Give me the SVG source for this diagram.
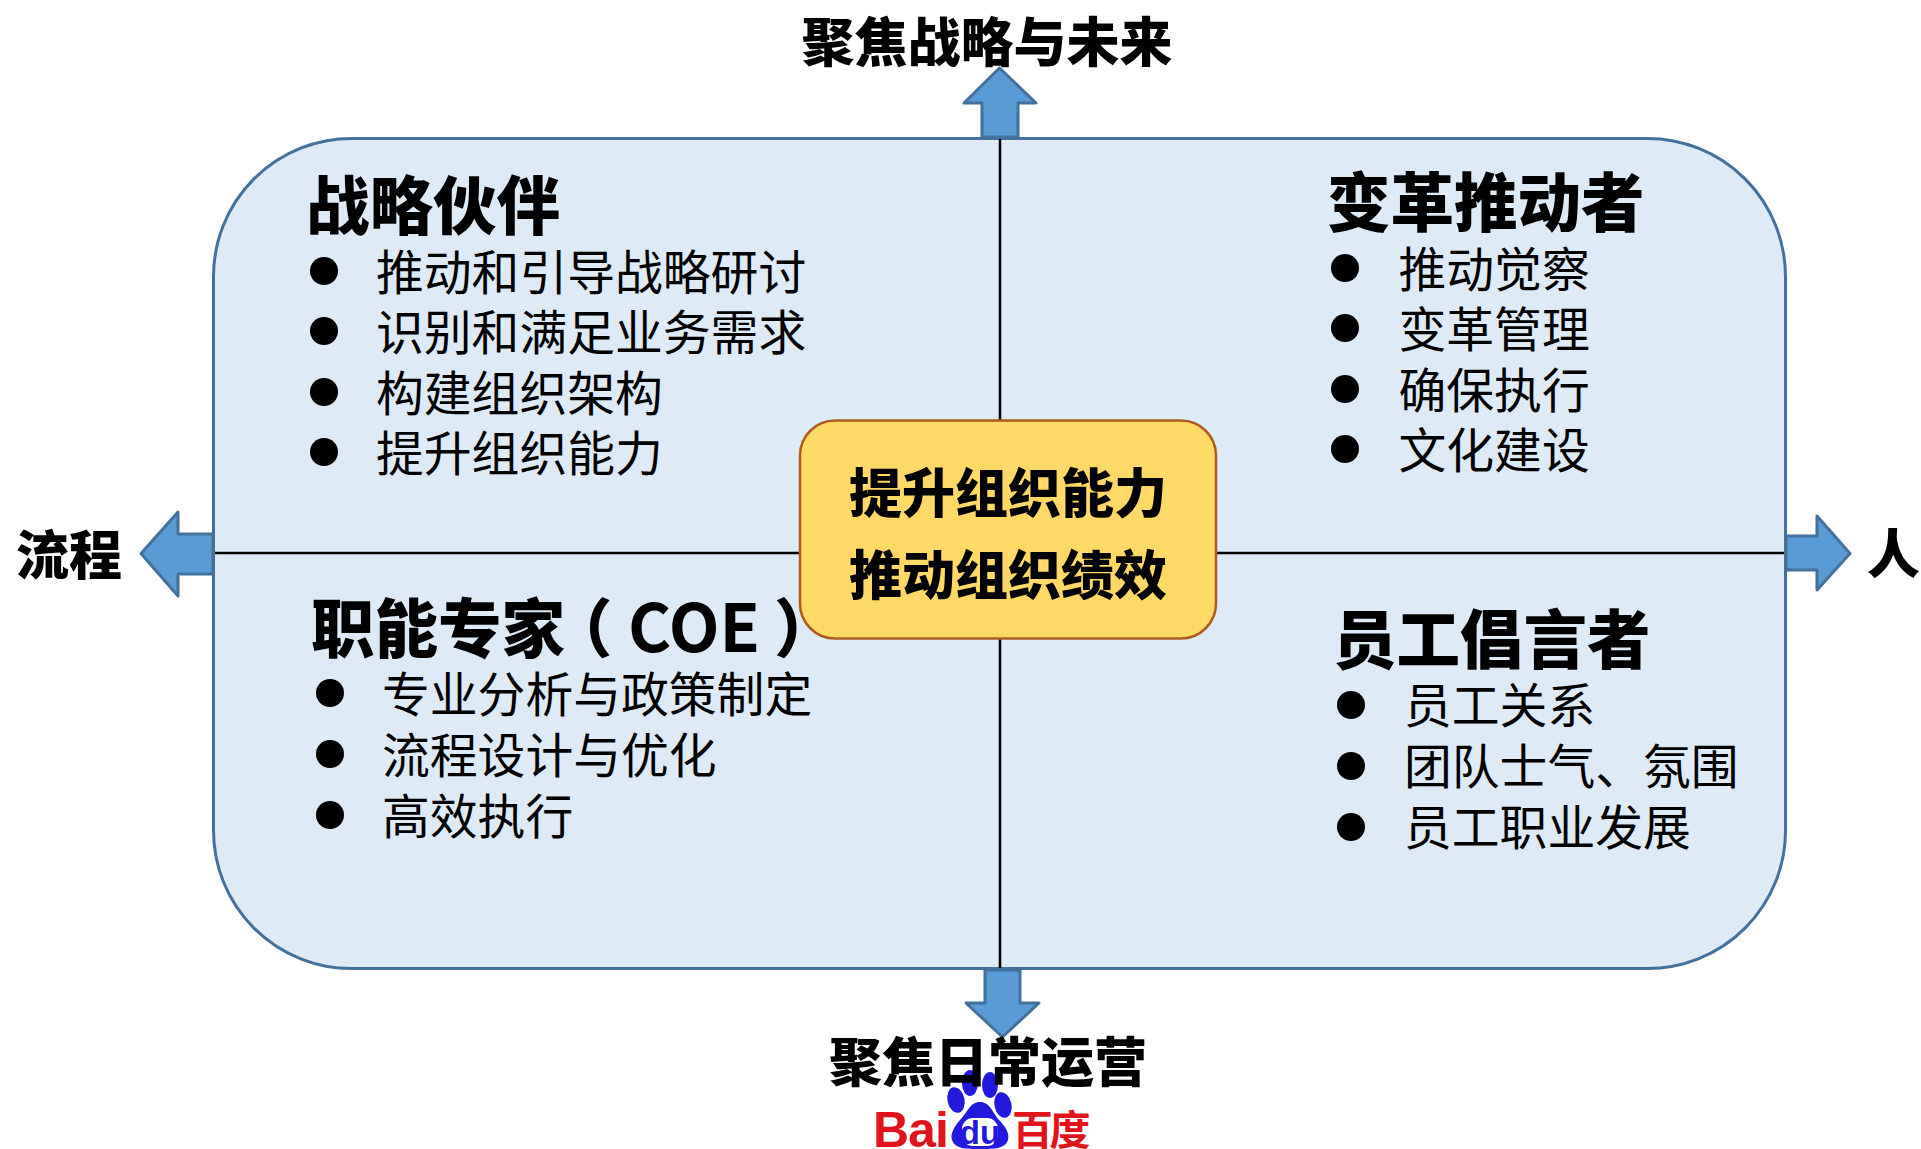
<svg xmlns="http://www.w3.org/2000/svg" width="1921" height="1149" viewBox="0 0 1921 1149">
<style>
text{font-family:"Noto Sans CJK SC","Noto Sans",sans-serif;fill:#000}
.h{font-size:63.500px;font-weight:900}
.i{font-size:47.800px;font-weight:400}
.a{font-size:53px;font-weight:900}
.ar{fill:#5b9bd5;stroke:#41719c;stroke-width:3;stroke-linejoin:round}
.d{fill:#000}
.l{stroke:#000;stroke-width:2.500;fill:none}
.red{font-weight:700}
.blue{fill:#2319dc}
</style>
<g id="arrows">
<polygon class="ar" points="982,137 982,103 964,103 999.500,68 1036,103 1018,103 1018,137"/>
<polygon class="ar" points="985,970 985,1003 966,1003 1002.500,1037 1039,1003 1020,1003 1020,970"/>
<polygon class="ar" points="213,534 178,534 178,512 141,553.500 178,596 178,574 213,574"/>
<polygon class="ar" points="1786,536 1817,536 1817,516 1850,553.500 1817,590 1817,570 1786,570"/>
</g>
<g id="panel"><rect x="213.500" y="138.500" width="1572" height="830" rx="138" fill="#deeaf6" stroke="#41719c" stroke-width="3"/></g>
<g id="connectors">
<line class="l" x1="1000" y1="139" x2="1000" y2="968"/>
<line class="l" x1="215" y1="553" x2="1784" y2="553"/>
</g>
<g id="center"><rect x="800" y="420.500" width="416" height="218" rx="35" fill="#ffd966" stroke="#ae5a21" stroke-width="2.500"/>
<text class="a" x="1008" y="513" text-anchor="middle">提升组织能力</text>
<text class="a" x="1008" y="595" text-anchor="middle">推动组织绩效</text></g>
<g id="q1"><text class="h" x="306" y="229">战略伙伴</text>
<circle class="d" cx="324" cy="271" r="14"/><circle class="d" cx="324" cy="331" r="14"/><circle class="d" cx="324" cy="392" r="14"/><circle class="d" cx="324" cy="452" r="14"/>
<text class="i" x="376" y="290">推动和引导战略研讨</text>
<text class="i" x="376" y="350">识别和满足业务需求</text>
<text class="i" x="376" y="411">构建组织架构</text>
<text class="i" x="376" y="471">提升组织能力</text></g>
<g id="q2"><text class="h" x="1327" y="226">变革推动者</text>
<circle class="d" cx="1345" cy="268" r="14"/><circle class="d" cx="1345" cy="328" r="14"/><circle class="d" cx="1345" cy="389" r="14"/><circle class="d" cx="1345" cy="449" r="14"/>
<text class="i" x="1398.500" y="287">推动觉察</text>
<text class="i" x="1398.500" y="347">变革管理</text>
<text class="i" x="1398.500" y="408">确保执行</text>
<text class="i" x="1398.500" y="468">文化建设</text></g>
<g id="q3"><text class="h" x="311" y="652">职能专家<tspan x="549">（</tspan><tspan x="628" font-size="66" font-weight="700">COE</tspan><tspan x="774">）</tspan></text>
<circle class="d" cx="330" cy="693" r="14"/><circle class="d" cx="330" cy="754" r="14"/><circle class="d" cx="330" cy="815" r="14"/>
<text class="i" x="382" y="712">专业分析与政策制定</text>
<text class="i" x="382" y="773">流程设计与优化</text>
<text class="i" x="382" y="834">高效执行</text></g>
<g id="q4"><text class="h" x="1333" y="663">员工倡言者</text>
<circle class="d" cx="1351" cy="705" r="14"/><circle class="d" cx="1351" cy="766" r="14"/><circle class="d" cx="1351" cy="827" r="14"/>
<text class="i" x="1404" y="723">员工关系</text>
<text class="i" x="1404" y="784">团队士气、氛围</text>
<text class="i" x="1404" y="845">员工职业发展</text></g>
<g id="watermark">
<ellipse class="blue" cx="956" cy="1100" rx="8.500" ry="13" transform="rotate(-12 956 1100)"/>
<ellipse class="blue" cx="970" cy="1083" rx="8" ry="13"/>
<ellipse class="blue" cx="990" cy="1085" rx="8" ry="13"/>
<ellipse class="blue" cx="1003" cy="1105" rx="8.500" ry="13" transform="rotate(-12 1003 1105)"/>
<path class="blue" d="M980 1102C970 1102 968 1112 960 1120C954 1127 950 1134 952 1140C955 1149 966 1149 980 1149C994 1149 1005 1149 1008 1140C1010 1133 1005 1126 999 1120C992 1112 990 1102 980 1102Z"/>
<rect x="962" y="1118" width="36" height="28" rx="11" fill="#fff"/>
<text x="980" y="1144" font-size="33" text-anchor="middle" style="fill:#2319dc;font-family:'Liberation Sans',sans-serif;font-weight:700">du</text>
<text x="873" y="1147" font-size="50" letter-spacing="-1" style="fill:#e1141c;font-family:'Liberation Sans',sans-serif;font-weight:700">Bai</text>
<text x="1012" y="1145" font-size="41" letter-spacing="-3.500" class="red" style="fill:#e1141c">百度</text>
</g>
<g id="labels">
<text class="a" x="987" y="62" text-anchor="middle">聚焦战略与未来</text>
<text class="a" x="988" y="1082" text-anchor="middle">聚焦日常运营</text>
<text class="a" x="16" y="575">流程</text>
<text class="a" x="1867" y="574">人</text>
</g>
</svg>
